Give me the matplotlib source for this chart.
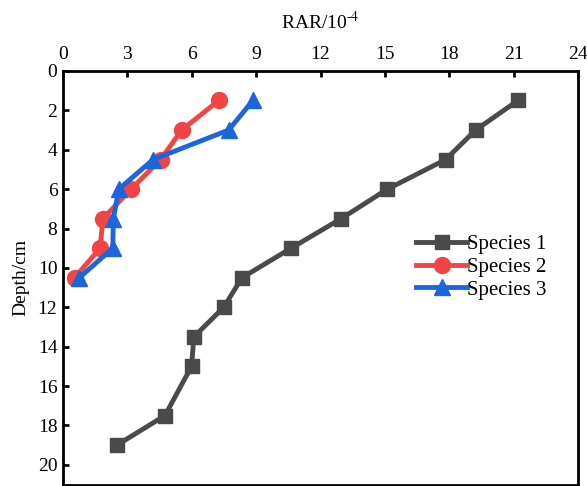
import matplotlib
matplotlib.use("Agg")
import matplotlib.pyplot as plt

plt.rcParams['font.family'] = ['Liberation Serif', 'DejaVu Serif']
plt.rcParams['mathtext.fontset'] = 'stix'
plt.rcParams['font.size'] = 14

depth1 = [1.5, 3, 4.5, 6, 7.5, 9, 10.5, 12, 13.5, 15, 17.5, 19]
rar1 = [21.2, 19.23, 17.83, 15.12, 12.96, 10.63, 8.34, 7.49, 6.1, 5.99, 4.75, 2.51]

depth2 = [1.5, 3, 4.5, 6, 7.5, 9, 10.5]
rar2 = [7.26, 5.53, 4.55, 3.17, 1.86, 1.73, 0.54]

depth3 = [1.5, 3, 4.5, 6, 7.5, 9, 10.5]
rar3 = [8.85, 7.72, 4.2, 2.6, 2.35, 2.32, 0.76]

labels = ['Species 1', 'Species 2', 'Species 3']
xticks = [0, 3, 6, 9, 12, 15, 18, 21, 24]
yticks = [0, 2, 4, 6, 8, 10, 12, 14, 16, 18, 20]

fig = plt.figure(figsize=(5.87, 4.86), dpi=100)
ax = fig.add_axes([0.1073, 0.003, 0.8774, 0.851])

ax.plot(rar1, depth1, color='#4a4a4a', lw=3.5, marker='s', ms=10.5, label=labels[0])
ax.plot(rar2, depth2, color='#f24444', lw=3.5, marker='o', ms=11.5, label=labels[1])
ax.plot(rar3, depth3, color='#1c66dc', lw=3.5, marker='^', ms=12, label=labels[2])

ax.set_xlim(0, 24)
ax.set_ylim(21, 0)
ax.set_xticks(xticks)
ax.set_yticks(yticks)
ax.xaxis.tick_top()
ax.xaxis.set_label_position('top')
ax.tick_params(direction='in', length=4, width=2, pad=4)
ax.tick_params(axis='x', pad=6)
for s in ax.spines.values():
    s.set_linewidth(2)

ax.set_xlabel(r'RAR/10$^{\text{-}4}$', labelpad=12)
ax.set_ylabel('Depth/cm', labelpad=6)

ax.legend(loc='center left', bbox_to_anchor=(0.709, 0.4506), bbox_transform=fig.transFigure,
          frameon=False, borderpad=0, handlelength=2.45, handletextpad=0.0,
          labelspacing=0.15, borderaxespad=0, fontsize=15)

fig.savefig('out.png', dpi=100)
